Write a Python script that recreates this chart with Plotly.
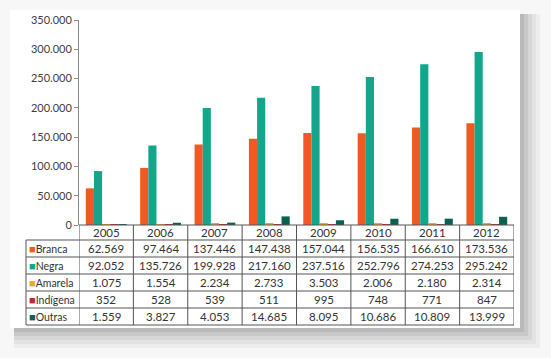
import plotly.graph_objects as go

years = ["2005", "2006", "2007", "2008", "2009", "2010", "2011", "2012"]
series_names = ["Branca", "Negra", "Amarela", "Indígena", "Outras"]
branca = [62569, 97464, 137446, 147438, 157044, 156535, 166610, 173536]
negra = [92052, 135726, 199928, 217160, 237516, 252796, 274253, 295242]
amarela = [1075, 1554, 2234, 2733, 3503, 2006, 2180, 2314]
indigena = [352, 528, 539, 511, 995, 748, 771, 847]
outras = [1559, 3827, 4053, 14685, 8095, 10686, 10809, 13999]
colors = ["#EF5A24", "#13A68A", "#F4A62A", "#C1272D", "#0B6150"]

all_series = [branca, negra, amarela, indigena, outras]

def fmt(v):
    return f"{v:,}".replace(",", ".")

fig = go.Figure()
for name, vals, col in zip(series_names, all_series, colors):
    fig.add_trace(go.Bar(x=years, y=vals, name=name, marker=dict(color=col, line=dict(width=0)),
                         showlegend=False, hoverinfo="x+y+name"))

# ---- layout geometry (pixels) ----
W, H = 551, 358
ML, MR, MT, MB = 26, 37, 20, 33
PW, PH = W - ML - MR, H - MT - MB
TOP_TABLE = 225      # pixel y of table top (= zero line)
HEADER_H, ROW_H = 15, 17
LABEL_W = 53

def py(p):  # pixel y -> paper y
    return (H - MB - p) / PH

def px(p):  # pixel x -> paper x
    return (p - ML) / PW

line_col = "#555555"
font_tab = dict(family="Lato, sans-serif", size=11.5, color="#333333")
font_lab = dict(family="Lato, sans-serif", size=10.5, color="#333333")
shapes = []
annotations = []

# card & shadow (decoration)
for k, op in enumerate([0.05, 0.06, 0.07, 0.09, 0.11]):
    off = 5 - k
    shapes.append(dict(type="rect", xref="paper", yref="paper",
                       x0=px(14), x1=px(520 + off * 4),
                       y0=py(328 + off * 4), y1=py(14),
                       fillcolor=f"rgba(60,60,60,{op})", line=dict(width=0), layer="below"))
shapes.append(dict(type="rect", xref="paper", yref="paper",
                   x0=px(10), x1=px(520), y0=py(328), y1=py(10),
                   fillcolor="white", line=dict(width=0), layer="below"))

# table grid
nrows = len(series_names)
row_tops = [TOP_TABLE + HEADER_H + ROW_H * r for r in range(nrows + 1)]
table_bottom = row_tops[-1]
shapes.append(dict(type="line", xref="paper", yref="paper", x0=px(ML + LABEL_W), x1=1,
                   y0=py(TOP_TABLE), y1=py(TOP_TABLE), line=dict(color=line_col, width=1)))
for t in row_tops:
    shapes.append(dict(type="line", xref="paper", yref="paper", x0=0, x1=1,
                       y0=py(t), y1=py(t), line=dict(color=line_col, width=1)))
shapes.append(dict(type="line", xref="paper", yref="paper", x0=0, x1=0,
                   y0=py(row_tops[0]), y1=py(table_bottom), line=dict(color=line_col, width=1)))
for i in range(len(years) + 1):
    shapes.append(dict(type="line", xref="x", yref="paper", x0=i - 0.5, x1=i - 0.5,
                       y0=py(TOP_TABLE), y1=py(table_bottom), line=dict(color=line_col, width=1)))

# header
for i, yr in enumerate(years):
    annotations.append(dict(x=i, xref="x", y=py(TOP_TABLE + HEADER_H / 2), yref="paper",
                            text=yr, showarrow=False, font=font_tab, yanchor="middle"))
# rows
for r, (name, vals, col) in enumerate(zip(series_names, all_series, colors)):
    yc = py(row_tops[r] + ROW_H / 2)
    annotations.append(dict(x=px(ML + 1), xref="paper", y=yc, yref="paper", xanchor="left",
                            yanchor="middle", showarrow=False, font=font_lab,
                            text=f"<span style='color:{col};font-size:11px'>■</span>{name}"))
    for i, v in enumerate(vals):
        annotations.append(dict(x=i, xref="x", y=yc, yref="paper", text=fmt(v), showarrow=False,
                                font=font_tab, yanchor="middle"))

fig.update_layout(
    width=W, height=H,
    margin=dict(l=ML, r=MR, t=MT, b=MB),
    paper_bgcolor="#f7f7f7", plot_bgcolor="rgba(0,0,0,0)",
    barmode="group", bargap=0.25, bargroupgap=0,
    separators=",.",
    font=dict(family="Lato, sans-serif", size=11, color="#404040"),
    shapes=shapes, annotations=annotations,
    xaxis=dict(type="category", domain=[LABEL_W / PW, 1], range=[-0.5, len(years) - 0.5],
               showticklabels=False, showline=False, ticks="", showgrid=False, zeroline=False,
               automargin=False, fixedrange=True),
    yaxis=dict(domain=[py(TOP_TABLE), 1], range=[0, 350000], dtick=50000, tickformat=",d",
               showline=True, linecolor="#8a8a8a", linewidth=1, ticks="outside", ticklen=4,
               tickcolor="#8a8a8a", showgrid=False, zeroline=False, automargin=False,
               tickfont=dict(size=11, color="#404040")),
)

fig.write_html("out.html")
